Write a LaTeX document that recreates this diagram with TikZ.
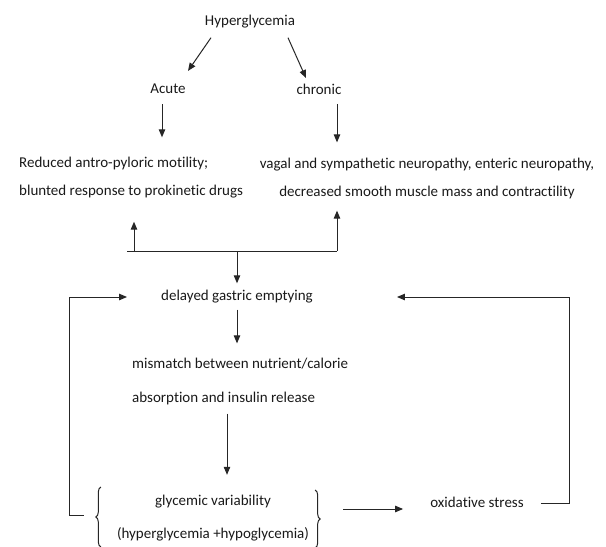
\documentclass[tikz,border=0pt]{standalone}
\usepackage{fontspec}
\setmainfont[Ligatures=NoCommon]{Carlito}
\usetikzlibrary{calc,arrows.meta,decorations.pathreplacing}

\begin{document}
\begin{tikzpicture}[x=1pt,y=-1pt,
    every node/.style={text=black!90,font=\fontsize{15}{28}\selectfont,inner sep=1pt},
    arr/.style={draw=black!85,line width=1pt,-{Triangle[length=8pt,width=6.5pt]}},
    lnk/.style={draw=black!85,line width=1pt}]
  \useasboundingbox (0,0) rectangle (606,547);
  \clip (0,0) rectangle (606,547);
  % top of the tree
  \node (hyper) at (250,22) {Hyperglycemia};
  \node (acute) at (168,89) {Acute};
  \node (chronic) at (319,89) {chronic};
  \node[anchor=west,align=left] (reduced) at (18,178)
    {Reduced antro-pyloric motility;\\blunted response to prokinetic drugs};
  \node[align=center] (neuro) at (427,178)
    {vagal and sympathetic neuropathy, enteric neuropathy,\\decreased smooth muscle mass and contractility};
  % the loop
  \node (delayed) at (237,297) {delayed gastric emptying};
  \node[anchor=west,align=left,font=\fontsize{15}{34}\selectfont] (mismatch) at (131,381)
    {mismatch between nutrient/calorie\\absorption and insulin release};
  \node[align=center,font=\fontsize{15}{33}\selectfont] (glycemic) at (213,518)
    {glycemic variability\\(hyperglycemia +hypoglycemia)};
  \node (oxid) at (477,502) {oxidative stress};
  \coordinate (jl) at (127,251);
  \coordinate (jr) at (337,251);

  \draw[arr] ($(hyper.south)+(-39,8)$) -- ($(acute.north)+(20,-12)$);
  \draw[arr] ($(hyper.south)+(38,8)$) -- ($(chronic.north)+(-13,-4.5)$);
  \draw[arr] ($(acute.south)+(-6,9)$) -- ($(acute.south |- reduced.north)+(-6,-19)$);
  \draw[arr] ($(chronic.south)+(18,8.5)$) -- ($(chronic.south |- neuro.north)+(18,-14)$);

  \draw[lnk] (jl) -- (jr);
  \draw[arr] ($(jl)+(7,0)$) -- ($(jl |- reduced.south)+(7,22)$);
  \draw[arr] (jr) -- ($(jr |- neuro.south)+(0,11)$);
  \draw[arr] (jr -| delayed.north) -- ($(delayed.north)+(0,-6)$);
  \draw[arr] ($(delayed.south)+(0,5)$) -- ($(mismatch.north -| delayed.south)+(0,-13)$);
  \draw[arr] ($(glycemic.north |- mismatch.south)+(14,8)$) -- ($(glycemic.north)+(14,-19)$);

  \draw[lnk,decorate,decoration={brace,amplitude=5pt}] ($(glycemic.west)+(-15,29)$) -- ($(glycemic.west)+(-15,-31)$);
  \draw[lnk,decorate,decoration={brace,amplitude=5pt}] ($(glycemic.east)+(5,-28)$) -- ($(glycemic.east)+(5,30)$);
  \draw[arr] ($(glycemic.center)+(130,-9)$) -- ($(oxid.west)+(-26,7)$);

  % feedback
  \draw[arr] ($(glycemic.west)+(-32,-3)$) -| ($(delayed.west)+(-91,0)$) -- ($(delayed.west)+(-33,0)$);
  \draw[arr] ($(oxid.east)+(16,1)$) -| ($(delayed.east)+(256,0)$) -- ($(delayed.east)+(83,0)$);
\end{tikzpicture}
\end{document}
